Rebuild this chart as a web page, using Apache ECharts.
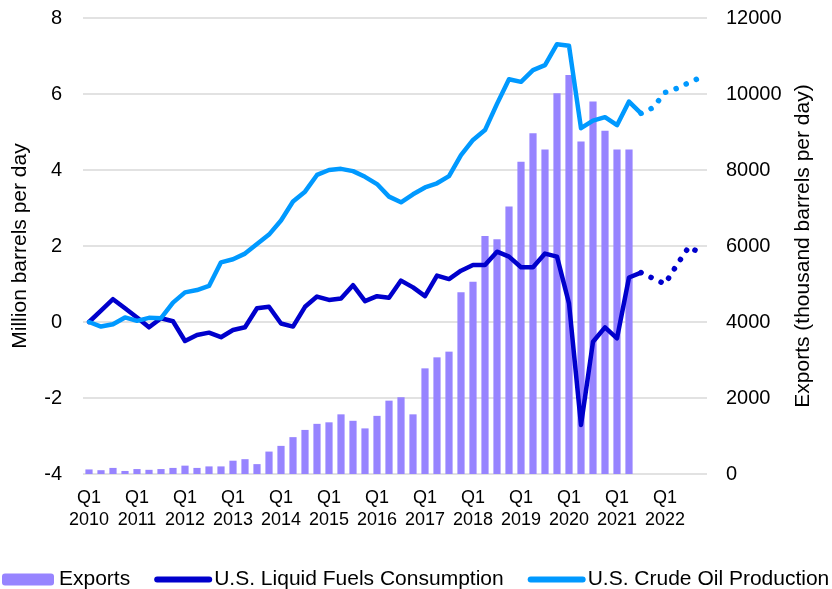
<!DOCTYPE html>
<html>
<head>
<meta charset="utf-8">
<title>US crude production, consumption and exports</title>
<script src="https://cdn.jsdelivr.net/npm/echarts@6/dist/echarts.min.js"></script>
<style>
  html, body { margin: 0; padding: 0; background: #fff; }
  #chart { width: 832px; height: 589px; }
</style>
</head>
<body>
<div id="chart"></div>
<script>
// quarters Q1 2010 .. Q4 2022
const years = [2010, 2011, 2012, 2013, 2014, 2015, 2016, 2017, 2018, 2019, 2020, 2021, 2022]
const quarters = ['Q1', 'Q2', 'Q3', 'Q4']
const categories = []
years.forEach((y) => quarters.forEach((q) => categories.push(q + ' ' + y)))

// exports, thousand barrels per day (Q1 2010 .. Q2 2021)
const exportsData = [
  120, 100, 160, 80, 130, 110, 130, 160, 220, 160, 200, 200,
  350, 390, 260, 590, 740, 970, 1160, 1320, 1360, 1570, 1400, 1200,
  1530, 1930, 2020, 1570, 2780, 3070, 3220, 4780, 5060, 6260, 6180, 7040,
  8220, 8970, 8540, 10020, 10500, 8750, 9800, 9030, 8540, 8540,
]

// change vs Q1 2010, million barrels per day (Q1 2010 .. Q3 2021)
const consumption = [
  0, 0.3, 0.6, 0.36, 0.12, -0.14, 0.1, 0.02, -0.5, -0.34, -0.28, -0.4,
  -0.21, -0.14, 0.36, 0.4, -0.04, -0.12, 0.4, 0.67, 0.58, 0.62, 0.97, 0.55,
  0.68, 0.64, 1.09, 0.91, 0.68, 1.22, 1.13, 1.35, 1.5, 1.5, 1.85, 1.72,
  1.44, 1.44, 1.8, 1.72, 0.49, -2.71, -0.52, -0.14, -0.43, 1.17, 1.3,
]
const production = [
  0, -0.12, -0.06, 0.12, 0.03, 0.11, 0.1, 0.51, 0.78, 0.84, 0.95, 1.57,
  1.65, 1.8, 2.05, 2.3, 2.67, 3.17, 3.43, 3.87, 4.0, 4.03, 3.97, 3.82,
  3.63, 3.3, 3.15, 3.36, 3.54, 3.65, 3.84, 4.39, 4.79, 5.05, 5.74, 6.39,
  6.32, 6.63, 6.76, 7.31, 7.27, 5.1, 5.3, 5.39, 5.18, 5.8, 5.49,
]

// forecast, Q3 2021 .. Q4 2022
const consumptionForecast = [1.3, 1.15, 1.0, 1.51, 1.98, 1.8]
const productionForecast = [5.49, 5.64, 6.04, 6.15, 6.3, 6.44]
const forecastStart = 46

const leftTicks = [-4, 8, 2]
const rightTicks = [0, 12000, 2000]

const padForecast = (arr) => {
  const out = categories.map(() => null)
  arr.forEach((v, i) => { out[forecastStart + i] = v })
  return out
}

const font = "'Liberation Sans', Arial, sans-serif"
const myChart = echarts.init(document.getElementById('chart'))

// legend entry for a line: just the thick line, no symbol
const lineLegend = (name) => ({
  name,
  itemStyle: { opacity: 0 },
  lineStyle: { width: 6, cap: 'round' },
})

const options = {
  animation: false,
  textStyle: { fontFamily: font },
  grid: { left: 83, right: 125, top: 18, bottom: 115 },
  legend: {
    left: 2,
    top: 569,
    width: 900,
    padding: 0,
    itemWidth: 52,
    itemHeight: 12,
    itemGap: 24,
    textStyle: { fontSize: 21, color: '#000', fontFamily: font },
    data: [
      'Exports',
      lineLegend('U.S. Liquid Fuels Consumption'),
      lineLegend('U.S. Crude Oil Production'),
    ],
  },
  xAxis: {
    type: 'category',
    data: categories,
    axisLine: { show: false },
    axisTick: { show: false },
    axisLabel: {
      interval: 3,
      margin: 13,
      fontSize: 18,
      lineHeight: 22,
      color: '#000',
      fontFamily: font,
      formatter: (v) => v.replace(' ', '\n'),
    },
  },
  yAxis: [
    {
      type: 'value',
      min: leftTicks[0],
      max: leftTicks[1],
      interval: leftTicks[2],
      name: 'Million barrels per day',
      nameLocation: 'middle',
      nameGap: 52,
      nameTextStyle: { fontSize: 21, color: '#000', fontFamily: font },
      axisLabel: { fontSize: 20, color: '#000', margin: 21, fontFamily: font },
      axisLine: { show: false },
      axisTick: { show: false },
      splitLine: { lineStyle: { color: '#d9d9d9', width: 1.5 } },
    },
    {
      type: 'value',
      min: rightTicks[0],
      max: rightTicks[1],
      interval: rightTicks[2],
      name: 'Exports (thousand barrels per day)',
      nameLocation: 'middle',
      nameRotate: 90,
      nameGap: 86,
      nameTextStyle: { fontSize: 21, color: '#000', fontFamily: font },
      axisLabel: {
        fontSize: 20, color: '#000', margin: 19, fontFamily: font,
        formatter: (v) => String(v),
      },
      axisLine: { show: false },
      axisTick: { show: false },
      splitLine: { show: false },
    },
  ],
  series: [
    {
      name: 'Exports',
      type: 'bar',
      yAxisIndex: 1,
      barWidth: '60%',
      itemStyle: { color: '#9784ff' },
      data: exportsData,
    },
    {
      name: 'U.S. Liquid Fuels Consumption',
      type: 'line',
      symbol: 'none',
      lineStyle: { color: '#0000cc', width: 4.5, cap: 'round', join: 'round' },
      itemStyle: { color: '#0000cc' },
      data: consumption,
    },
    {
      name: 'U.S. Crude Oil Production',
      type: 'line',
      symbol: 'none',
      lineStyle: { color: '#0099ff', width: 4.5, cap: 'round', join: 'round' },
      itemStyle: { color: '#0099ff' },
      data: production,
    },
    // forecast, dotted
    {
      name: 'U.S. Liquid Fuels Consumption',
      type: 'line',
      symbol: 'none',
      lineStyle: { color: '#0000cc', width: 5.5, type: [0.1, 11], cap: 'round' },
      itemStyle: { color: '#0000cc' },
      data: padForecast(consumptionForecast),
    },
    {
      name: 'U.S. Crude Oil Production',
      type: 'line',
      symbol: 'none',
      lineStyle: { color: '#0099ff', width: 5.5, type: [0.1, 11], cap: 'round' },
      itemStyle: { color: '#0099ff' },
      data: padForecast(productionForecast),
    },
  ],
}

myChart.setOption(options)
</script>
</body>
</html>
